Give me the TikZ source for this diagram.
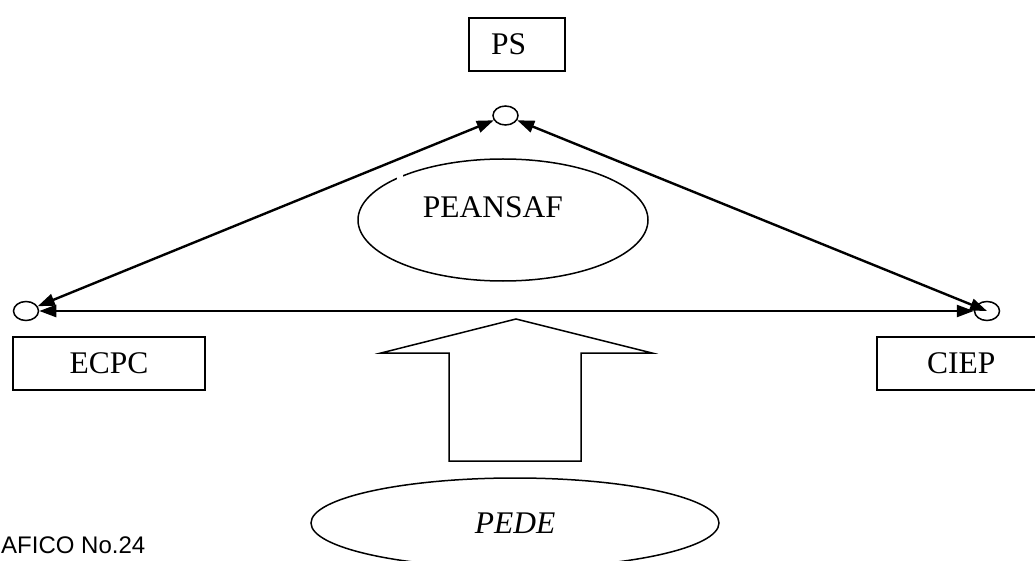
\documentclass[tikz,border=0pt]{standalone}
\usepackage{fontspec}
\setmainfont{Liberation Serif}
\newfontfamily\arialfont{Liberation Sans}
\usetikzlibrary{arrows.meta,shapes.geometric}

\begin{document}
\begin{tikzpicture}[x=1pt,y=-1pt,>={Triangle[length=17pt,width=12pt]},line join=miter]
\path[use as bounding box,fill=white] (0,0) rectangle (1035,561);
\clip (0,0) rectangle (1035,561);
\tikzset{tag/.style={draw,line width=1.8pt,minimum height=53pt,inner ysep=0pt,font=\fontsize{31.5}{36}\selectfont},oval/.style={draw,ellipse,line width=1.5pt,inner sep=0pt},dot/.style={oval,minimum width=25pt,minimum height=19pt},link/.style={draw,line width=2.4pt,<->}}
\node[tag,align=left,inner xsep=22pt,text width=52pt] (ps) at (517,44.5) {PS};
\node[tag,minimum width=192pt] (ecpc) at (109,363.5) {ECPC};
\node[tag,align=left,inner xsep=50pt,text width=70pt] (ciep) at (962,363.5) {CIEP};
\node[dot] (apex) at (505.5,115.5) {};
\node[dot] (lend) at (26,311) {};
\node[dot] (rend) at (987,311) {};
\draw[link] (lend) -- (rend);
\draw[link] (apex) -- (lend);
\draw[link] (apex) -- (rend.center);
\node[oval,minimum width=290pt,minimum height=122pt] (peansaf) at (503,220) {};
\fill[white] (397,173) rectangle (403,183);
\node[font=\fontsize{31.5}{36}\selectfont] (peansaftext) at (493,207) {PEANSAF};
\draw[line width=1.5pt] (449,461) -- (449,353) -- (381,353) -- (516,319) -- (652,353) -- (581,353) -- (581,461) -- cycle;
\node[oval,minimum width=408pt,minimum height=90pt,font=\fontsize{31.5}{36}\selectfont\itshape] (pede) at (515,523) {PEDE};
\node[anchor=west,inner sep=0pt,font=\arialfont\fontsize{24}{28}\selectfont] (caption) at (1,545) {AFICO No.24};
\end{tikzpicture}
\end{document}
